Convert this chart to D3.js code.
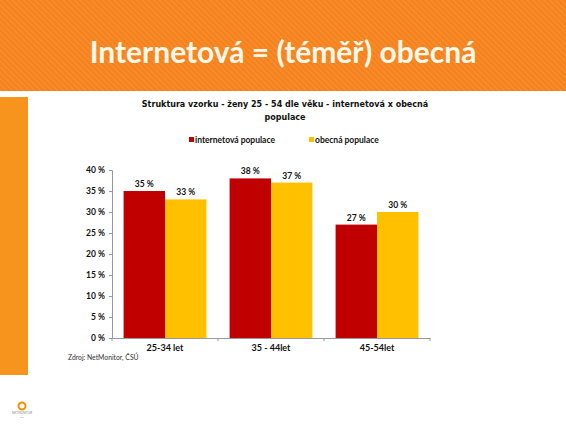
<!DOCTYPE html>
<html><head><meta charset="utf-8">
<script src="https://cdnjs.cloudflare.com/ajax/libs/d3/7.8.5/d3.min.js"></script>
<style>body{margin:0;background:#fff}svg{display:block}</style>
</head><body>
<script>
const categories = ["25-34 let", "35 - 44let", "45-54let"];
const seriesNames = ["internetová populace", "obecná populace"];
const internetValues = [35, 38, 27];
const generalValues = [33, 37, 30];
const yTicks = [0, 5, 10, 15, 20, 25, 30, 35, 40];
const colors = ["#C00000", "#FFC000"];

const W = 566, H = 424;
const svg = d3.select("body").append("svg").attr("width", W).attr("height", H);

const defs = svg.append("defs");
const pat = defs.append("pattern").attr("id","stripes").attr("patternUnits","userSpaceOnUse")
  .attr("width",4).attr("height",4).attr("patternTransform","rotate(-45)");
pat.append("rect").attr("width",4).attr("height",4).attr("fill","#F5821F");
pat.append("rect").attr("width",1.2).attr("height",4).attr("fill","#F8902E");

svg.append("rect").attr("x",0).attr("y",0).attr("width",W).attr("height",91).attr("fill","url(#stripes)");
svg.append("text").attr("x",283).attr("y",63).attr("text-anchor","middle")
  .attr("font-family","Lato").attr("font-weight","bold").attr("font-size",30)
  .attr("fill","#FFF8E8").text("Internetová = (téměř) obecná");

svg.append("rect").attr("x",0).attr("y",97).attr("width",28).attr("height",278).attr("fill","#F7941E");

const t = svg.append("text").attr("text-anchor","middle").attr("font-family","DejaVu Sans")
  .attr("font-weight","bold").attr("font-size",8).attr("fill","#111");
t.append("tspan").attr("x",285).attr("y",107).text("Struktura vzorku - ženy 25 - 54 dle věku - internetová x obecná");
t.append("tspan").attr("x",285).attr("y",120).text("populace");

const legX = [189, 309];
seriesNames.forEach((n,i)=>{
  svg.append("rect").attr("x",legX[i]).attr("y",137).attr("width",5).attr("height",5).attr("fill",colors[i]);
  svg.append("text").attr("x",legX[i]+6).attr("y",142.5).attr("font-family","Lato").attr("font-weight","bold")
    .attr("font-size",8.5).attr("fill","#111").text(n);
});

const margin = {left:112, right:430, top:170, bottom:338};
const x0 = d3.scaleBand().domain(categories).range([margin.left, margin.right]).paddingInner(0).paddingOuter(0);
const x1 = d3.scaleBand().domain(seriesNames).range([0, x0.bandwidth()]).paddingInner(0).paddingOuter(0.28);
const y = d3.scaleLinear().domain([0,40]).range([margin.bottom, margin.top]);

const data = categories.map((c,i)=>({c, vals:[internetValues[i], generalValues[i]]}));

const g = svg.append("g");
data.forEach(d=>{
  d.vals.forEach((v,j)=>{
    g.append("rect").attr("x",x0(d.c)+x1(seriesNames[j])).attr("y",y(v))
      .attr("width",x1.bandwidth()).attr("height",y(0)-y(v)).attr("fill",colors[j]);
    g.append("text").attr("x",x0(d.c)+x1(seriesNames[j])+x1.bandwidth()/2).attr("y",y(v)-4)
      .attr("text-anchor","middle").attr("font-family","Lato").attr("font-weight","bold")
      .attr("font-size",8.5).attr("fill","#111").text(v+" %");
  });
});

const ya = svg.append("g").attr("transform",`translate(${margin.left},0)`)
  .call(d3.axisLeft(y).tickValues(yTicks).tickFormat(d=>d+" %").tickSize(3).tickPadding(4));
ya.select(".domain").attr("stroke","#999");
ya.selectAll(".tick line").attr("stroke","#999");
ya.selectAll("text").attr("font-family","Lato").attr("font-weight","bold").attr("font-size",8.5).attr("fill","#111");

const xa = svg.append("g").attr("transform",`translate(0,${margin.bottom})`)
  .call(d3.axisBottom(x0).tickSize(0).tickPadding(7));
xa.select(".domain").attr("stroke","#999");
xa.selectAll("text").attr("font-family","Lato").attr("font-weight","bold").attr("font-size",9).attr("fill","#111");
const bounds = [margin.left].concat(categories.map(c=>x0(c)+x0.bandwidth()));
xa.selectAll(".bnd").data(bounds).enter().append("line").attr("x1",d=>d).attr("x2",d=>d)
  .attr("y1",0).attr("y2",3).attr("stroke","#999");

svg.append("text").attr("x",68).attr("y",360).attr("font-family","Lato").attr("font-size",6.8)
  .attr("fill","#333").text("Zdroj: NetMonitor, ČSÚ");

svg.append("circle").attr("cx",22).attr("cy",406).attr("r",3.5).attr("fill","none").attr("stroke","#F39200").attr("stroke-width",2);
svg.append("text").attr("x",22).attr("y",414).attr("text-anchor","middle").attr("font-family","Lato")
  .attr("font-size",3).attr("fill","#888").text("NETMONITOR");
svg.append("text").attr("x",22).attr("y",418).attr("text-anchor","middle").attr("font-family","Lato")
  .attr("font-size",2.5).attr("fill","#aaa").text("spir");
</script>
</body></html>
